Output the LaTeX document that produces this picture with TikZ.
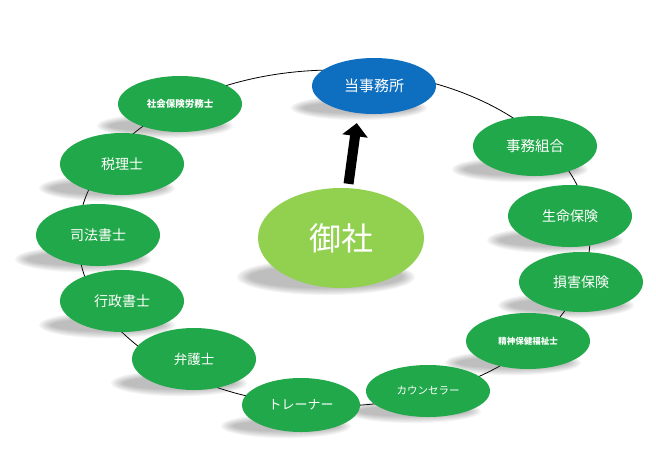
\documentclass[tikz,border=0pt]{standalone}
\usepackage{fontspec}
\newfontfamily\jp{Noto Sans CJK JP}
\usetikzlibrary{arrows.meta,shapes.geometric}
\definecolor{ngreen}{HTML}{21A84A}
\definecolor{lgreen}{HTML}{92D050}
\definecolor{nblue}{HTML}{0E6FC1}
\newcommand\mysh[4]{%
  \foreach \k in {0,...,6}{%
    \fill[black!75,opacity=0.055] ({#1-15},{#2+0.78*#4}) ellipse [x radius={#3+6-2*\k}, y radius={0.26*#4+5-1.1*\k}];}}
\begin{document}
\begin{tikzpicture}[x=1pt,y=-1pt,
  ell/.style={ellipse, inner sep=0pt, text=white, font=\jp},
  gr/.style={ell, fill=ngreen},
  ring/.style={line width=0.8pt, black},
  bigarrow/.style={line width=10pt, -{Triangle[width=25pt,length=13pt]}, shorten <=4pt, shorten >=9pt}]
\useasboundingbox (0,0) rectangle (656,451);
\fill[white] (0,0) rectangle (656,451);
\draw[ring] (334,238) ellipse [x radius=256, y radius=168];
% shadows
\mysh{374}{86}{62}{28}
\mysh{180}{104}{62}{28}
\mysh{122}{164}{62}{31}
\mysh{98}{235}{62}{31}
\mysh{122}{301}{62}{31}
\mysh{194}{359}{62}{31}
\mysh{301}{405}{59}{27}
\mysh{428}{391}{62}{26}
\mysh{528}{341}{62}{28}
\mysh{581}{282}{62}{30}
\mysh{570}{216}{62}{31}
\mysh{535}{146}{62}{30}
\mysh{341}{238}{83}{50}
% nodes
\node[ell, fill=nblue, minimum width=124pt, minimum height=56pt, font=\jp\fontsize{15}{15}\selectfont] (office) at (374,86) {当事務所};
\node[gr, minimum width=124pt, minimum height=56pt, font=\jp\bfseries\fontsize{9.5}{10}\selectfont] (n1) at (180,104) {社会保険労務士};
\node[gr, minimum width=124pt, minimum height=62pt, font=\jp\fontsize{14}{14}\selectfont] (n2) at (122,164) {税理士};
\node[gr, minimum width=124pt, minimum height=62pt, font=\jp\fontsize{14}{14}\selectfont] (n3) at (98,235) {司法書士};
\node[gr, minimum width=124pt, minimum height=62pt, font=\jp\fontsize{14}{14}\selectfont] (n4) at (122,301) {行政書士};
\node[gr, minimum width=124pt, minimum height=62pt, font=\jp\fontsize{13.5}{14}\selectfont] (n5) at (194,359) {弁護士};
\node[gr, minimum width=118pt, minimum height=54pt, font=\jp\fontsize{13}{13}\selectfont] (n6) at (301,405) {トレーナー};
\node[gr, minimum width=124pt, minimum height=52pt, font=\jp\fontsize{10.5}{11}\selectfont] (n7) at (428,391) {カウンセラー};
\node[gr, minimum width=124pt, minimum height=56pt, font=\jp\bfseries\fontsize{8.5}{9}\selectfont] (n8) at (528,341) {精神保健福祉士};
\node[gr, minimum width=124pt, minimum height=60pt, font=\jp\fontsize{14}{14}\selectfont] (n9) at (581,282) {損害保険};
\node[gr, minimum width=124pt, minimum height=62pt, font=\jp\fontsize{14}{14}\selectfont] (n10) at (570,216) {生命保険};
\node[gr, minimum width=124pt, minimum height=60pt, font=\jp\fontsize{14.5}{15}\selectfont] (n11) at (535,146) {事務組合};
\node[ell, fill=lgreen, minimum width=166pt, minimum height=100pt, font=\jp\fontsize{32}{32}\selectfont] (guest) at (341,238) {御社};
% arrow
\draw[bigarrow] ([xshift=7pt]guest.north) -- ([xshift=-16pt]office.south);
\end{tikzpicture}
\end{document}
